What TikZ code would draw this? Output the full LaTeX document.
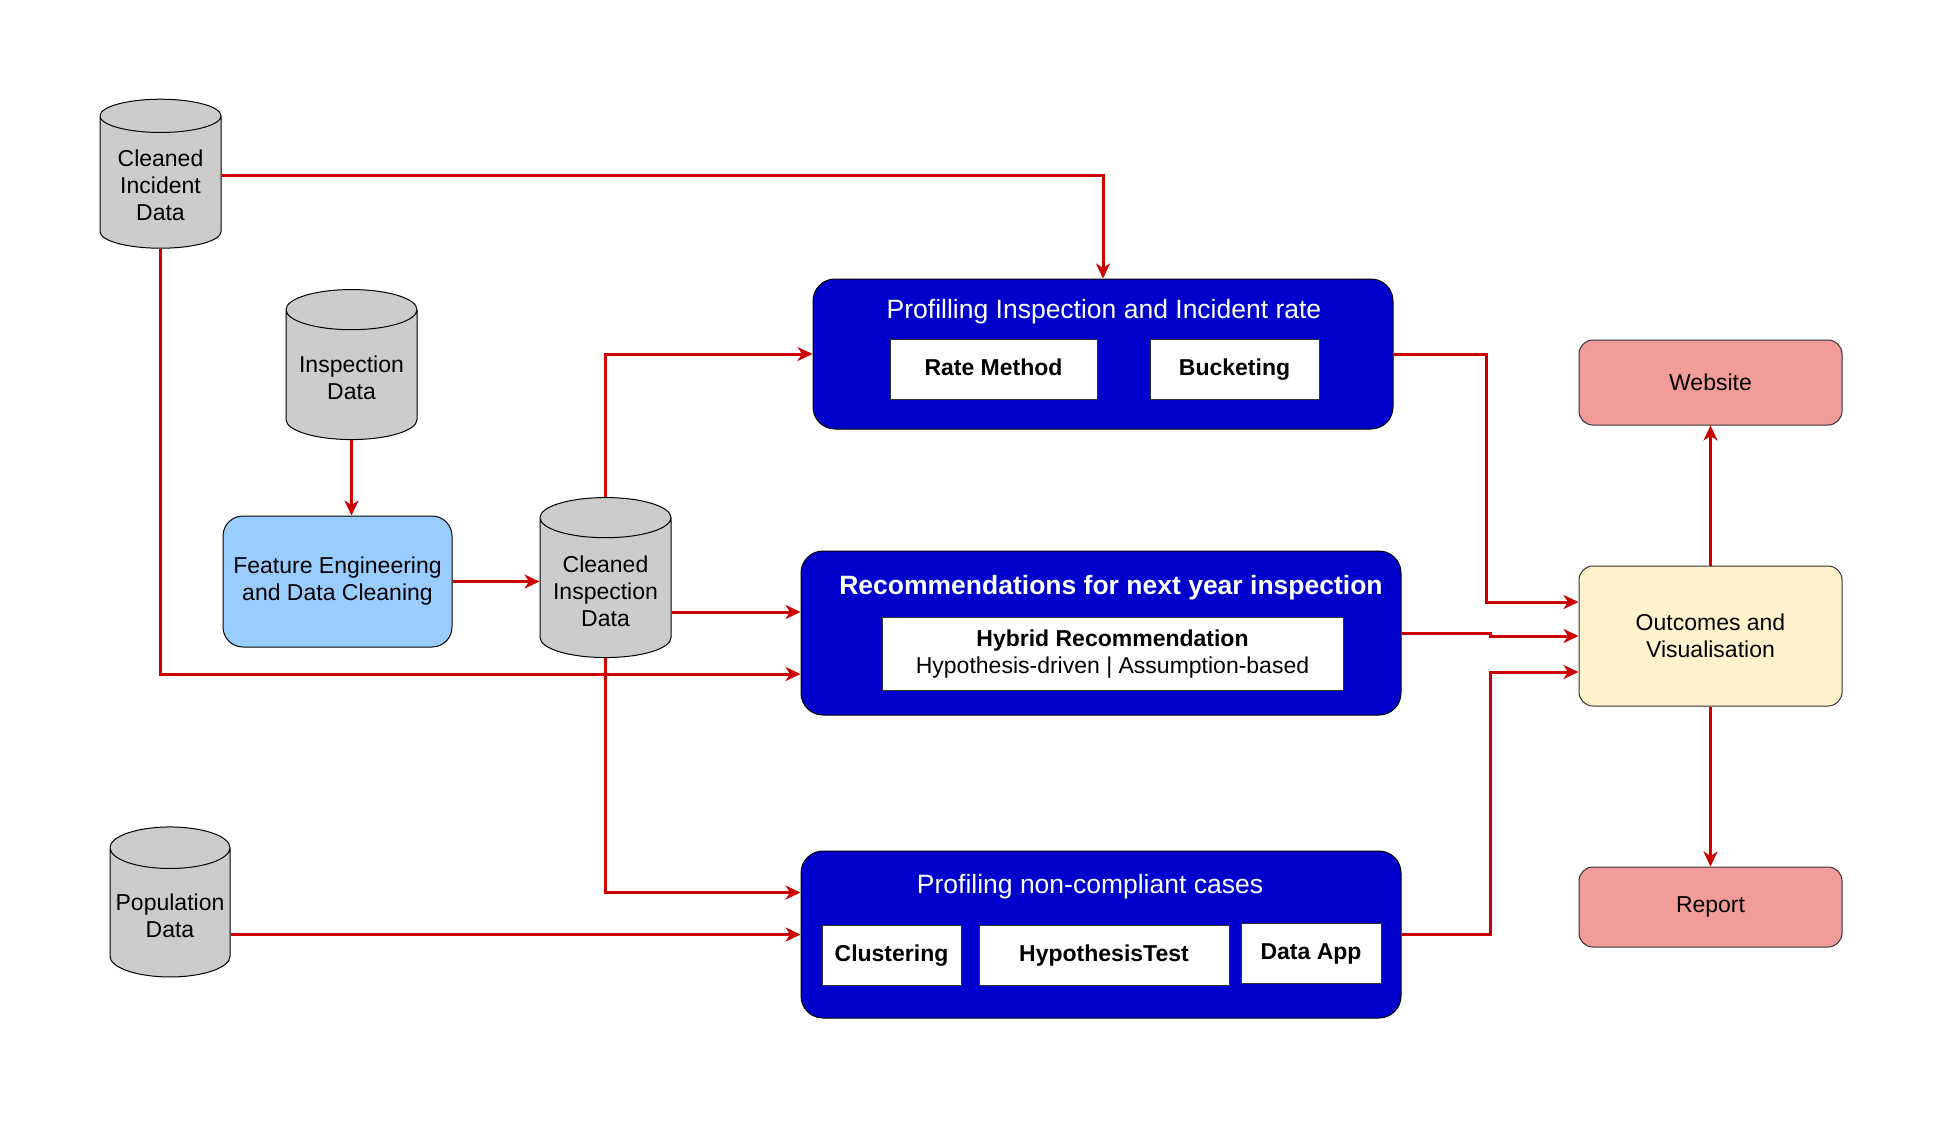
\documentclass[tikz,border=0pt]{standalone}
\usepackage{fontspec}
\setmainfont{Liberation Sans}
\usepackage{tikz}
\usetikzlibrary{shapes.geometric}
\usetikzlibrary{arrows.meta}
\tikzset{>={Stealth[length=15pt,width=14pt,inset=4.5pt]}}

\definecolor{flowred}{HTML}{CC0000}
\definecolor{stageblue}{HTML}{0000CC}
\definecolor{dbgray}{HTML}{CCCCCC}
\definecolor{featblue}{HTML}{99CCFF}
\definecolor{outcyellow}{HTML}{FFF2CC}
\definecolor{outpink}{HTML}{F19C99}

\newcommand{\basefont}{\fontsize{23}{27}\selectfont}
\newcommand{\titlefont}{\fontsize{26.5}{30}\selectfont}

\begin{document}
\begin{tikzpicture}[x=1pt, y=-1pt,
  db/.style={cylinder, shape border rotate=90, aspect=0.36, draw=black, line width=1pt,
    fill=dbgray, align=center, font=\basefont},
  stage/.style={draw=black, line width=1pt, fill=stageblue, rounded corners=22pt},
  tool/.style={draw=black!80, line width=1pt, fill=white, font=\basefont\bfseries, align=center},
  toolone/.style={tool, text height=17pt, text depth=5pt},
  result/.style={draw=black!80, line width=1pt, rounded corners=14pt, font=\basefont, align=center},
  flow/.style={->, draw=flowred, line width=3pt}]
  \useasboundingbox (0,0) rectangle (1942,1120);

  % Data sources
  \node[db, minimum width=121pt, minimum height=149pt] (incd) at (160.5,185) {Cleaned\\Incident\\Data};
  \node[db, minimum width=131pt, minimum height=150pt] (insp) at (351.5,378) {Inspection\\Data};
  \node[db, minimum width=131pt, minimum height=160pt] (clins) at (605.5,591) {Cleaned\\Inspection\\Data};
  \node[db, minimum width=120pt, minimum height=150pt] (pop) at (170,916) {Population\\Data};
  \node[draw=black, line width=1pt, fill=featblue, rounded corners=20pt, minimum width=229pt,
    minimum height=131pt, font=\basefont, align=center] (feat) at (337.5,581.5)
    {Feature Engineering\\and Data Cleaning};

  % Analysis stages
  \node[stage, minimum width=580pt, minimum height=150pt] (prof) at (1103,354) {};
  \node[text=white, font=\titlefont] (proft) at (1104,312) {Profilling Inspection and Incident rate};
  \node[toolone, minimum width=207pt, minimum height=60pt] (rate) at (993.5,369) {Rate Method};
  \node[toolone, minimum width=169pt, minimum height=60pt] (buck) at (1234.5,369) {Bucketing};

  \node[stage, minimum width=600pt, minimum height=164pt] (rec) at (1101,633) {};
  \node[text=white, font=\titlefont\bfseries] (rect) at (1111,588) {Recommendations for next year inspection};
  \node[tool, minimum width=461pt, minimum height=73pt, inner sep=2pt] (hyb) at (1112.5,654)
    {Hybrid Recommendation\\{\mdseries Hypothesis-driven | Assumption-based}};

  \node[stage, minimum width=600pt, minimum height=167pt] (ncomp) at (1101,934.5) {};
  \node[text=white, font=\titlefont] (ncompt) at (1090,887) {Profiling non-compliant cases};
  \node[toolone, minimum width=139pt, minimum height=60pt] (clus) at (891.5,955) {Clustering};
  \node[toolone, minimum width=250pt, minimum height=60pt] (hyp) at (1104,955) {HypothesisTest};
  \node[toolone, minimum width=140pt, minimum height=60pt] (app) at (1311,953) {Data App};

  % Outputs
  \node[result, fill=outcyellow, minimum width=263pt, minimum height=140pt] (outc) at (1710.5,636)
    {Outcomes and\\Visualisation};
  \node[result, fill=outpink, minimum width=263pt, minimum height=85pt] (web) at (1710.5,382.5) {Website};
  \node[result, fill=outpink, minimum width=263pt, minimum height=80pt] (rep) at (1710.5,907) {Report};

  % Flows
  \draw[flow] ([yshift=10pt]incd.east) -| (prof.north);
  \draw[flow] (insp.south) -- (insp.south |- feat.north);
  \draw[flow] (feat.east) -- (feat.east -| clins.west);
  \draw[flow] (clins.north) |- (prof.west);
  \draw[flow] ([yshift=-21pt]clins.east) -- ([yshift=-21pt]clins.east -| rec.west);
  \draw[flow] (incd.south) |- ([yshift=-41pt]rec.west);
  \draw[flow] (clins.south) |- ([yshift=42pt]ncomp.west);
  \draw[flow] (pop.east |- ncomp.west) -- (ncomp.west);
  \draw[flow] (prof.east) -- ++(93,0) |- ([yshift=34pt]outc.west);
  \draw[flow] (rec.east) -- ++(89,0) |- (outc.west);
  \draw[flow] (ncomp.east) -- ++(89,0) |- ([yshift=-36pt]outc.west);
  \draw[flow] (outc.north) -- (web.south);
  \draw[flow] (outc.south) -- (rep.north);

\end{tikzpicture}
\end{document}
